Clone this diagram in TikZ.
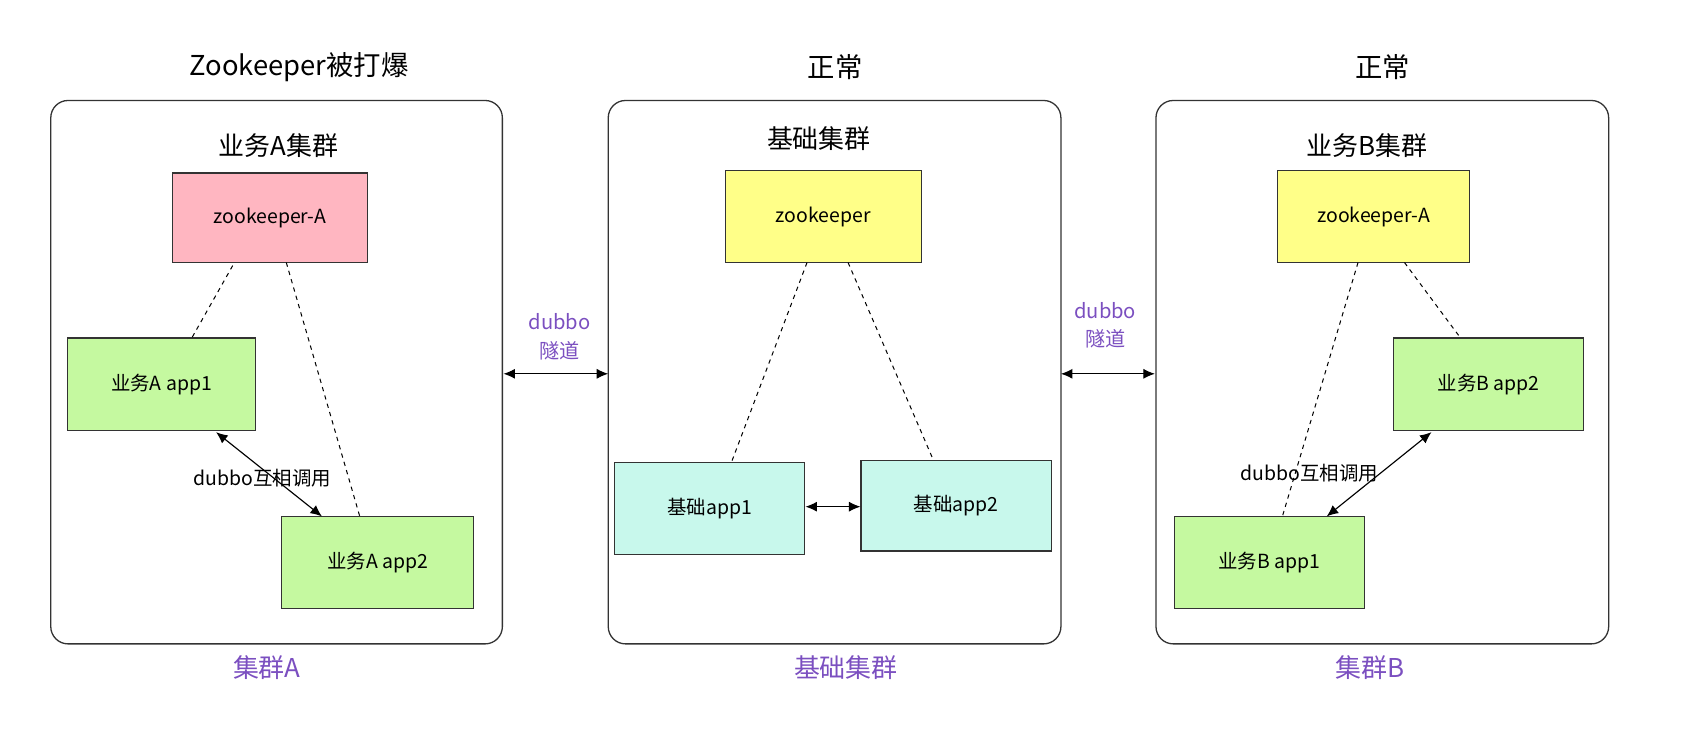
\documentclass[tikz,border=0pt]{standalone}
\usepackage{fontspec}
\setmainfont{Noto Sans CJK SC}
\usetikzlibrary{arrows.meta}
\definecolor{pur}{HTML}{7B4FC0}
\definecolor{pk}{HTML}{FFB6C1}
\definecolor{gr}{RGB}{197,249,160}
\definecolor{yl}{RGB}{255,255,136}
\definecolor{cy}{RGB}{200,248,236}
\tikzset{x=0.75pt,y=-0.75pt,
 cl/.style={draw=black!80,rounded corners=12pt,line width=0.9pt},
 bx/.style={draw=black!80,line width=0.8pt,font=\fontsize{13.5}{16}\selectfont},
 dsh/.style={dashed,line width=0.7pt},
 arr/.style={{Latex[length=8pt,width=7pt]}-{Latex[length=8pt,width=7pt]},line width=0.8pt},
 ttl/.style={font=\fontsize{19}{22}\selectfont},
 sub/.style={font=\fontsize{18}{21}\selectfont},
 pl/.style={text=pur,font=\fontsize{18}{21}\selectfont},
 tl/.style={text=pur,font=\fontsize{14}{20}\selectfont,align=center},
 lb/.style={font=\fontsize{13.5}{16}\selectfont}}
\begin{document}
\begin{tikzpicture}
\useasboundingbox (0,0) rectangle (1568,692);
\draw[cl] (47,93) rectangle (465,596);
\draw[cl] (563,93) rectangle (982,596);
\draw[cl] (1070,93) rectangle (1489,596);
\node[ttl] (t1) at (277,62) {Zookeeper被打爆};
\node[ttl] (t2) at (773,62) {正常};
\node[ttl] (t3) at (1280,62) {正常};
\node[sub] (s1) at (258,135) {业务A集群};
\node[sub] (s2) at (758,128) {基础集群};
\node[sub] (s3) at (1265,135) {业务B集群};
% A
\node[bx,fill=pk] (zA) at (250,201.5) [minimum width=135pt,minimum height=62pt] {zookeeper-A};
\node[bx,fill=gr] (a1) at (149.5,355.5) [minimum width=131pt,minimum height=64pt] {业务A app1};
\node[bx,fill=gr] (a2) at (349.5,520.5) [minimum width=133pt,minimum height=64pt] {业务A app2};
\draw[dsh] (178,312) -- (217,243);
\draw[dsh] (265,243) -- (333,478);
\draw[arr] (200,400) -- (298,478);
\node[lb] (la) at (243,443) {dubbo互相调用};
% Mid
\node[bx,fill=yl] (zm) at (762,200.5) [minimum width=136pt,minimum height=64pt] {zookeeper};
\node[bx,fill=cy] (b1) at (657,470.5) [minimum width=132pt,minimum height=64pt] {基础app1};
\node[bx,fill=cy] (b2) at (885,468) [minimum width=132pt,minimum height=63pt] {基础app2};
\draw[dsh] (747,243) -- (677,428);
\draw[dsh] (785,243) -- (864,426);
\draw[arr] (b1.east|-0,469) -- (b2.west|-0,469);
% B
\node[bx,fill=yl] (zB) at (1271.5,200.5) [minimum width=133pt,minimum height=64pt] {zookeeper-A};
\node[bx,fill=gr] (c2) at (1378,355.5) [minimum width=132pt,minimum height=64pt] {业务B app2};
\node[bx,fill=gr] (c1) at (1175,520.5) [minimum width=132pt,minimum height=64pt] {业务B app1};
\draw[dsh] (1257,243) -- (1187,478);
\draw[dsh] (1300,243) -- (1352,313);
\draw[arr] (1325,400) -- (1228,478);
\node[lb] (lb2) at (1212,438) {dubbo互相调用};
% tunnels
\coordinate (p1) at (466,346); \coordinate (p2) at (563,346);
\coordinate (p3) at (982,346); \coordinate (p4) at (1069,346);
\draw[arr] (p1) -- (p2);
\draw[arr] (p3) -- (p4);
\node[tl] (d1) at (518,312) {dubbo\\隧道};
\node[tl] (d2) at (1023,301) {dubbo\\隧道};
\node[pl] (b1l) at (247,618) {集群A};
\node[pl] (b2l) at (783,618) {基础集群};
\node[pl] (b3l) at (1268,618) {集群B};
\end{tikzpicture}
\end{document}
